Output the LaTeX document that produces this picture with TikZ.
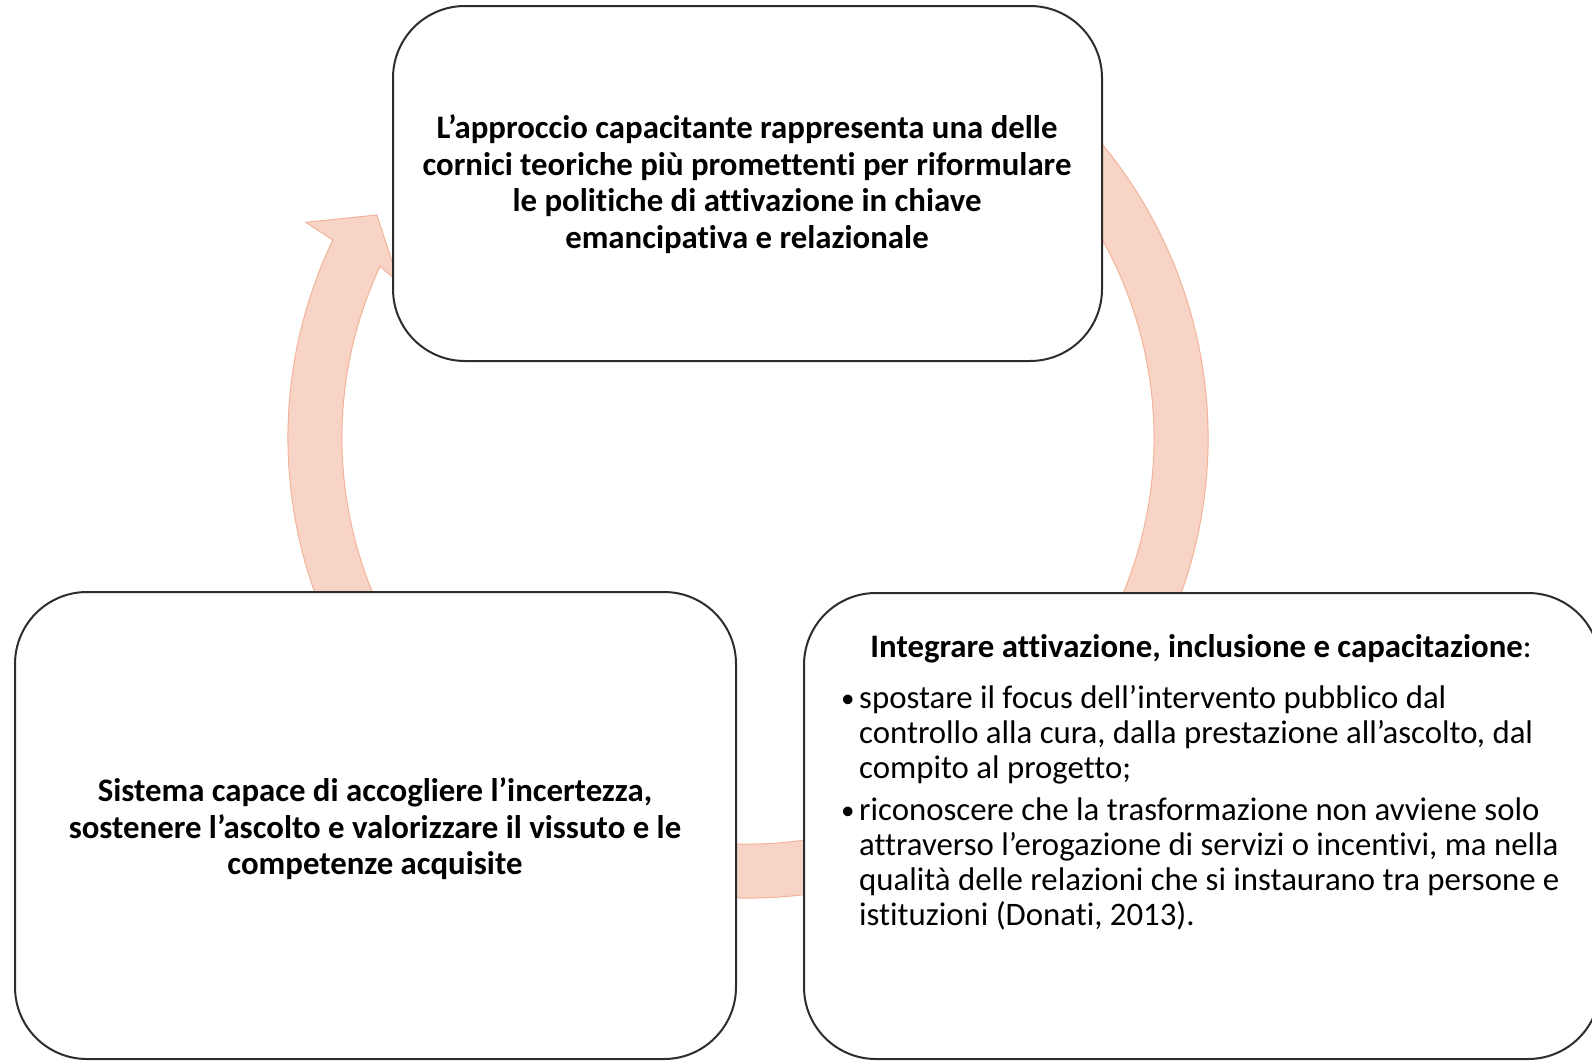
\documentclass[tikz,border=0pt]{standalone}
\usepackage{fontspec}
\setmainfont{Carlito}[Ligatures=NoCommon]
\usetikzlibrary{calc}
\definecolor{bandfill}{RGB}{248,212,198}
\definecolor{bandedge}{RGB}{242,180,152}
\definecolor{boxline}{RGB}{45,45,45}
\newcommand{\itembullet}{\llap{\makebox[18pt][l]{\raisebox{1pt}{\fontsize{27}{27}\selectfont•}}}}
\begin{document}
\begin{tikzpicture}[x=1pt,y=1pt,
  card/.style={draw=boxline, line width=2pt, fill=white, rounded corners=72pt, inner sep=0pt},
  band/.style={fill=bandfill, draw=bandedge, line width=1pt, line join=miter},
  txt/.style={font=\fontsize{32.8}{36.5}\selectfont\bfseries, align=center, inner sep=0pt},
  itm/.style={font=\fontsize{32.8}{35}\selectfont, align=left, inner sep=0pt},
  hdr/.style={font=\fontsize{32.8}{36}\selectfont, inner sep=0pt}]
\useasboundingbox (0,0) rectangle (1592,-1060);
\clip (0,0) rectangle (1592,-1060);
\fill[white] (0,0) rectangle (1592,-1060);
\coordinate (c) at (748,-438);
% circular arrow
\path[band] ([shift={(60:460pt)}]c)
  arc[start angle=60, end angle=-205.5, radius=460pt]
  -- ([shift={(154:492pt)}]c)
  -- ([shift={(149:433pt)}]c)
  -- ([shift={(156:382pt)}]c)
  -- ([shift={(155:406pt)}]c)
  arc[start angle=-205, end angle=60, radius=406pt]
  -- cycle;
% boxes
\node (top) [card, minimum width=709pt, minimum height=355pt] at (747.5,-183.5) {};
\node (left) [card, minimum width=721pt, minimum height=467pt] at (375.5,-825.5) {};
\node (right) [card, minimum width=796pt, minimum height=466pt] at (1202,-826) {};
% texts
\node (t1) [txt] at (747,-184) {L’approccio capacitante rappresenta una delle\\cornici teoriche più promettenti per riformulare\\le politiche di attivazione in chiave\\emancipativa e relazionale};
\node (t2) [txt] at (375,-829) {Sistema capace di accogliere l’incertezza,\\sostenere l’ascolto e valorizzare il vissuto e le\\competenze acquisite};
\node (h3) [hdr, anchor=base] at (1201,-657) {\textbf{Integrare attivazione, inclusione e capacitazione}:};
\node (b1) [itm, anchor=north west] at (859,-685.5) {\itembullet spostare il focus dell’intervento pubblico dal\\controllo alla cura, dalla prestazione all’ascolto, dal\\compito al progetto;};
\node (b2) [itm, anchor=north west] at (859,-797.5) {\itembullet riconoscere che la trasformazione non avviene solo\\attraverso l’erogazione di servizi o incentivi, ma nella\\qualità delle relazioni che si instaurano tra persone e\\istituzioni (Donati, 2013).};
\end{tikzpicture}
\end{document}
